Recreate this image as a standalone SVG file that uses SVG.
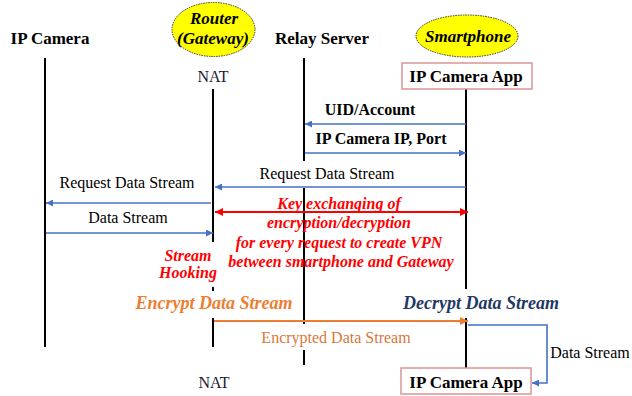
<svg xmlns="http://www.w3.org/2000/svg" width="632" height="396" viewBox="0 0 632 396">
<style>
text{font-family:"Liberation Serif","Times New Roman",serif;fill:#000}
.hd{font-size:17px;font-weight:bold}
.b16{font-size:16px;font-weight:bold}
.r16{font-size:16px}
.bi{font-weight:bold;font-style:italic}
.life{stroke:#000;stroke-width:2;fill:none}
.blue{stroke:#4472C4;stroke-width:1.6;fill:none}
.ell{fill:#FFFF00;stroke:#333;stroke-width:1;stroke-dasharray:1.5 1}
.box{fill:#fff;stroke:#D99594;stroke-width:1.5}
.red{fill:#FF0000}
</style>
<defs>
<marker id="ab" viewBox="0 0 8 8" refX="8" refY="4" markerWidth="7" markerHeight="7" markerUnits="userSpaceOnUse" orient="auto"><path d="M0,0 L8,4 L0,8 z" fill="#4472C4"/></marker>
<marker id="ar" viewBox="0 0 8 8" refX="8" refY="4" markerWidth="8" markerHeight="8" markerUnits="userSpaceOnUse" orient="auto-start-reverse"><path d="M0,0 L8,4 L0,8 z" fill="#FF0000"/></marker>
<marker id="ao" viewBox="0 0 8 8" refX="8" refY="4" markerWidth="8" markerHeight="8" markerUnits="userSpaceOnUse" orient="auto"><path d="M0,0 L8,4 L0,8 z" fill="#ED7D31"/></marker>
</defs>
<rect width="632" height="396" fill="#fff"/>

<g id="camera">
<text class="hd" x="50" y="44" text-anchor="middle">IP Camera</text>
<line class="life" x1="45" y1="58" x2="45" y2="347"/>
</g>

<g id="router">
<ellipse class="ell" cx="213.5" cy="29.5" rx="41.5" ry="27"/>
<text class="bi" style="font-size:17px" x="214" y="24" text-anchor="middle">Router</text>
<text class="bi" style="font-size:17px" x="213" y="44" text-anchor="middle">(Gateway)</text>
<text class="r16" style="fill:#1a1a33" x="213" y="82" text-anchor="middle">NAT</text>
<line class="life" x1="213" y1="89" x2="213" y2="242"/>
<line class="life" x1="213" y1="287" x2="213" y2="291"/>
<line class="life" x1="213" y1="318" x2="213" y2="347"/>
<text class="r16" style="fill:#1a1a33" x="214" y="388" text-anchor="middle">NAT</text>
</g>

<g id="relay">
<text class="hd" x="322" y="44" text-anchor="middle">Relay Server</text>
<line class="life" x1="304" y1="58" x2="304" y2="161"/>
<line class="life" x1="304" y1="188" x2="304" y2="324"/>
<line class="life" x1="304" y1="350" x2="304" y2="365"/>
</g>

<g id="smartphone">
<ellipse class="ell" cx="467" cy="36" rx="51" ry="21"/>
<text class="bi" style="font-size:17px" x="468" y="42" text-anchor="middle">Smartphone</text>
<line class="life" x1="466" y1="89" x2="466" y2="289"/>
<line class="life" x1="466" y1="318" x2="466" y2="368"/>
</g>

<g id="app-top">
<rect class="box" x="402" y="63" width="130" height="26"/>
<text class="hd" x="466" y="82" text-anchor="middle">IP Camera App</text>
</g>

<g id="app-bottom">
<rect class="box" x="401" y="368" width="130" height="26"/>
<text class="hd" x="466" y="388" text-anchor="middle">IP Camera App</text>
</g>

<g id="connectors">
<line class="blue" x1="466" y1="124" x2="305" y2="124" marker-end="url(#ab)"/>
<line class="blue" x1="305" y1="153" x2="466" y2="153" marker-end="url(#ab)"/>
<line class="blue" x1="466" y1="187" x2="215" y2="187" marker-end="url(#ab)"/>
<line class="blue" x1="211" y1="203" x2="46" y2="203" marker-end="url(#ab)"/>
<line class="blue" x1="46" y1="233" x2="213" y2="233" marker-end="url(#ab)"/>
<line x1="215" y1="212" x2="468" y2="212" stroke="#FF0000" stroke-width="2" marker-start="url(#ar)" marker-end="url(#ar)"/>
<line x1="214" y1="321" x2="468" y2="321" stroke="#ED7D31" stroke-width="2" marker-end="url(#ao)"/>
<polyline class="blue" points="468,325 547,325 547,383 532,383" marker-end="url(#ab)"/>
</g>

<g id="labels">
<text class="b16" x="370" y="115" text-anchor="middle">UID/Account</text>
<text class="b16" x="381" y="144" text-anchor="middle">IP Camera IP, Port</text>
<text class="r16" x="327" y="179" text-anchor="middle">Request Data Stream</text>
<text class="r16" x="127" y="188" text-anchor="middle">Request Data Stream</text>
<text class="r16" x="128" y="223" text-anchor="middle">Data Stream</text>
<g class="red" style="font-size:16px;font-weight:bold;font-style:italic">
<text class="red" x="339" y="209" text-anchor="middle">Key exchanging of</text>
<text class="red" x="339" y="228" text-anchor="middle">encryption/decryption</text>
<text class="red" x="339" y="248" text-anchor="middle">for every request to create VPN</text>
<text class="red" x="341" y="267" text-anchor="middle">between smartphone and Gateway</text>
<text class="red" x="188" y="261" text-anchor="middle">Stream</text>
<text class="red" x="188" y="278" text-anchor="middle">Hooking</text>
</g>
<text class="bi" style="font-size:18px;fill:#ED7D31" x="214" y="309" text-anchor="middle">Encrypt Data Stream</text>
<text class="bi" style="font-size:18px;fill:#1F3864" x="481" y="309" text-anchor="middle">Decrypt Data Stream</text>
<text class="r16" style="fill:#D9773A" x="336" y="343" text-anchor="middle">Encrypted Data Stream</text>
<text class="r16" x="590" y="358" text-anchor="middle">Data Stream</text>
</g>
</svg>
